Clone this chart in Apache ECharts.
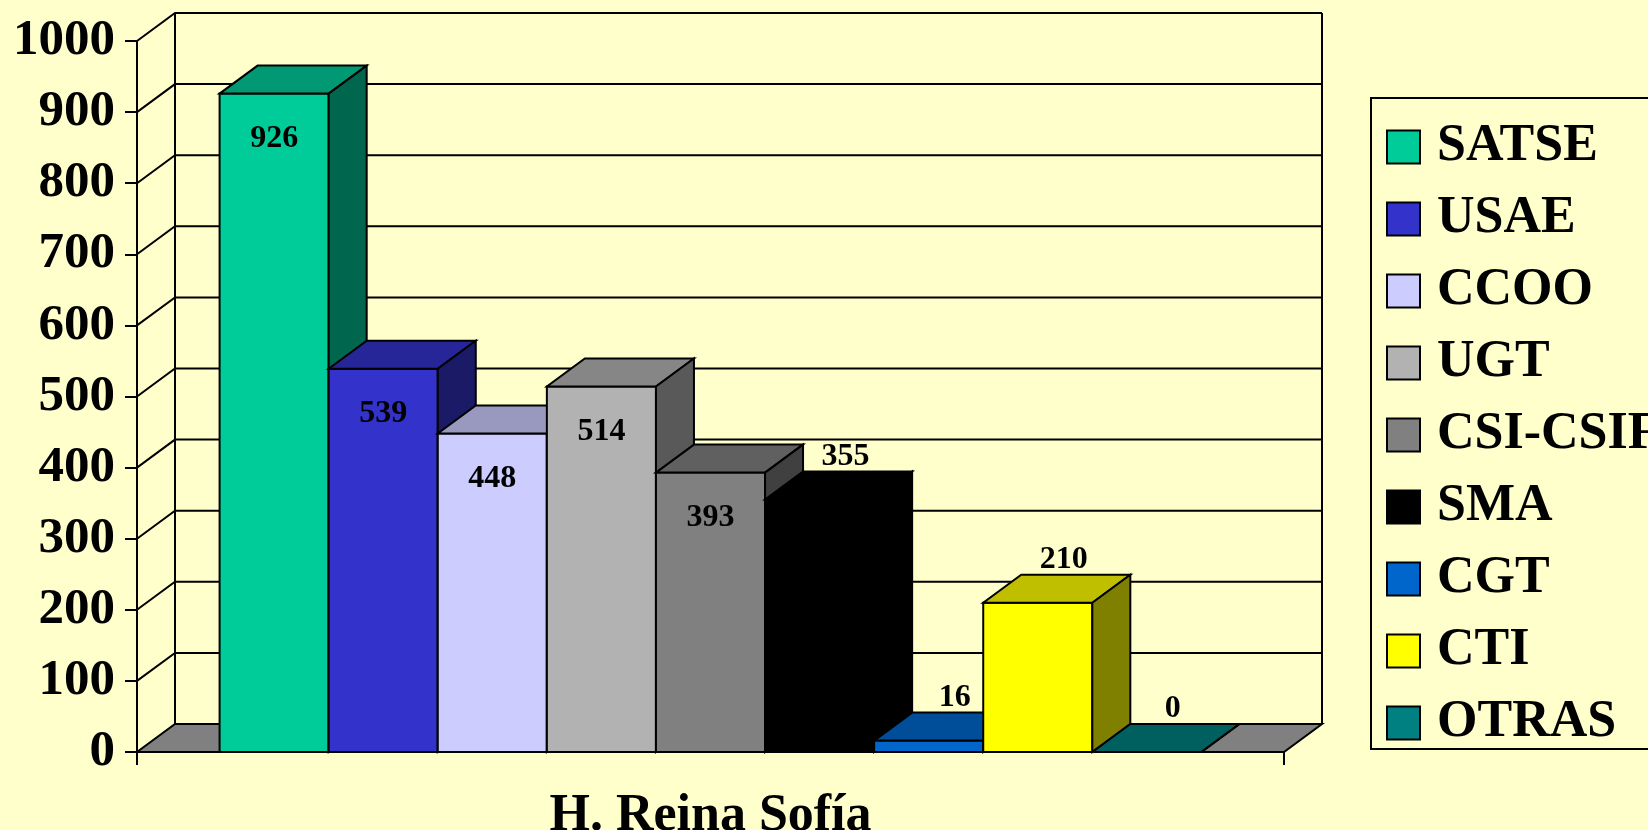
<!DOCTYPE html>
<html>
<head>
<meta charset="utf-8">
<script src="https://cdn.jsdelivr.net/npm/echarts@6/dist/echarts.min.js"></script>
<style>
  html, body { margin: 0; padding: 0; background: #ffffcc; }
  #chart { width: 1648px; height: 830px; }
</style>
</head>
<body>
<div id="chart"></div>
<script>
const categories = ['H. Reina Sofía']
const seriesNames = ['SATSE', 'USAE', 'CCOO', 'UGT', 'CSI-CSIF', 'SMA', 'CGT', 'CTI', 'OTRAS']
const seriesValues = [926, 539, 448, 514, 393, 355, 16, 210, 0]
const yTicks = [0, 100, 200, 300, 400, 500, 600, 700, 800, 900, 1000]

const frontColors = ['#00cc99', '#3333cc', '#ccccff', '#b2b2b2', '#808080', '#000000', '#0066cc', '#ffff00', '#008080']
const serif = '"Liberation Serif", "Times New Roman", serif'

// fake 3d depth, in pixels
const depthX = 38
const depthY = -28
const groupRatio = 0.856
const edge = { stroke: '#000', lineWidth: 2 }

const shade = (hex, k) => {
  const n = parseInt(hex.slice(1), 16)
  const r = Math.round(((n >> 16) & 255) * k)
  const g = Math.round(((n >> 8) & 255) * k)
  const b = Math.round((n & 255) * k)
  return 'rgb(' + r + ',' + g + ',' + b + ')'
}

// walls, floor and 3d grid lines (one item per tick)
const renderWalls = (params, api) => {
  const v = api.value(1)
  const center = api.coord([0, v])[0]
  const band = api.size([1, 0])[0]
  const x0 = center - band / 2
  const x1 = center + band / 2
  const y = api.coord([0, v])[1]
  const children = []
  if (v === 0) {
    const yTop = api.coord([0, yTicks[yTicks.length - 1]])[1]
    children.push({
      type: 'polygon',
      shape: { points: [[x0, y], [x1, y], [x1 + depthX, y + depthY], [x0 + depthX, y + depthY]] },
      style: Object.assign({ fill: '#808080' }, edge)
    })
    children.push({
      type: 'line',
      shape: { x1: x0 + depthX, y1: y + depthY, x2: x0 + depthX, y2: yTop + depthY },
      style: edge
    })
    children.push({
      type: 'line',
      shape: { x1: x1 + depthX, y1: y + depthY, x2: x1 + depthX, y2: yTop + depthY },
      style: edge
    })
  } else {
    children.push({
      type: 'polyline',
      shape: { points: [[x0, y], [x0 + depthX, y + depthY], [x1 + depthX, y + depthY]] },
      style: Object.assign({ fill: null }, edge)
    })
  }
  return { type: 'group', children: children }
}

const makeBar = (i) => (params, api) => {
  const value = api.value(1)
  const base = api.coord([0, 0])
  const band = api.size([1, 0])[0]
  const w = band * groupRatio / seriesNames.length
  const xl = base[0] - band * groupRatio / 2 + i * w
  const xr = xl + w
  const y0 = base[1]
  const yv = api.coord([0, value])[1]
  const color = frontColors[i]
  const inside = value >= 380
  return {
    type: 'group',
    children: [
      {
        type: 'polygon',
        shape: { points: [[xl, yv], [xr, yv], [xr, y0], [xl, y0]] },
        style: Object.assign({ fill: color }, edge)
      },
      {
        type: 'polygon',
        shape: { points: [[xl, yv], [xr, yv], [xr + depthX, yv + depthY], [xl + depthX, yv + depthY]] },
        style: Object.assign({ fill: shade(color, 0.75) }, edge)
      },
      {
        type: 'polygon',
        shape: { points: [[xr, yv], [xr + depthX, yv + depthY], [xr + depthX, y0 + depthY], [xr, y0]] },
        style: Object.assign({ fill: shade(color, 0.5) }, edge)
      },
      {
        type: 'text',
        style: {
          text: String(value),
          x: inside ? (xl + xr) / 2 : (xl + xr + depthX) / 2 + 7,
          y: inside ? yv + 45 : yv + depthY - 15,
          align: 'center',
          verticalAlign: 'middle',
          fontSize: 32,
          fontWeight: 'bold',
          fontFamily: serif,
          fill: '#000'
        }
      }
    ]
  }
}

const iChart = echarts.init(document.getElementById('chart'))

const barSeries = seriesNames.map((name, i) => ({
  name: name,
  type: 'custom',
  clip: false,
  itemStyle: { color: frontColors[i] },
  renderItem: makeBar(i),
  data: [[0, seriesValues[i]]]
}))

const option = {
  backgroundColor: '#ffffcc',
  animation: false,
  grid: { left: 137, right: 364, top: 41, bottom: 78, containLabel: false, outerBoundsMode: 'none' },
  legend: {
    data: seriesNames,
    orient: 'vertical',
    left: 1371,
    top: 98,
    padding: [23, 20, 0, 15],
    itemGap: 20,
    itemWidth: 33,
    itemHeight: 33,
    icon: 'rect',
    selectedMode: false,
    borderColor: '#000',
    borderWidth: 2,
    itemStyle: { borderColor: '#000', borderWidth: 2 },
    textStyle: {
      fontSize: 52,
      fontWeight: 'bold',
      fontFamily: serif,
      color: '#000',
      lineHeight: 52,
      padding: [0, 0, 0, 12]
    }
  },
  xAxis: {
    type: 'category',
    data: categories,
    axisLine: { lineStyle: { color: '#000', width: 2 } },
    axisTick: { show: true, length: 13, lineStyle: { color: '#000', width: 2 } },
    axisLabel: { fontSize: 52, fontWeight: 'bold', fontFamily: serif, color: '#000', margin: 39 },
    splitLine: { show: false }
  },
  yAxis: {
    type: 'value',
    min: 0,
    max: 1000,
    interval: 100,
    axisLine: { show: true, lineStyle: { color: '#000', width: 2 } },
    axisTick: { show: true, length: 12, lineStyle: { color: '#000', width: 2 } },
    axisLabel: {
      fontSize: 51,
      fontWeight: 'bold',
      fontFamily: serif,
      color: '#000',
      margin: 22,
      formatter: (v) => String(v)
    },
    splitLine: { show: false }
  },
  series: [
    {
      name: 'walls',
      type: 'custom',
      clip: false,
      silent: true,
      renderItem: renderWalls,
      data: yTicks.map((t) => [0, t])
    }
  ].concat(barSeries)
}

iChart.setOption(option)
</script>
</body>
</html>
